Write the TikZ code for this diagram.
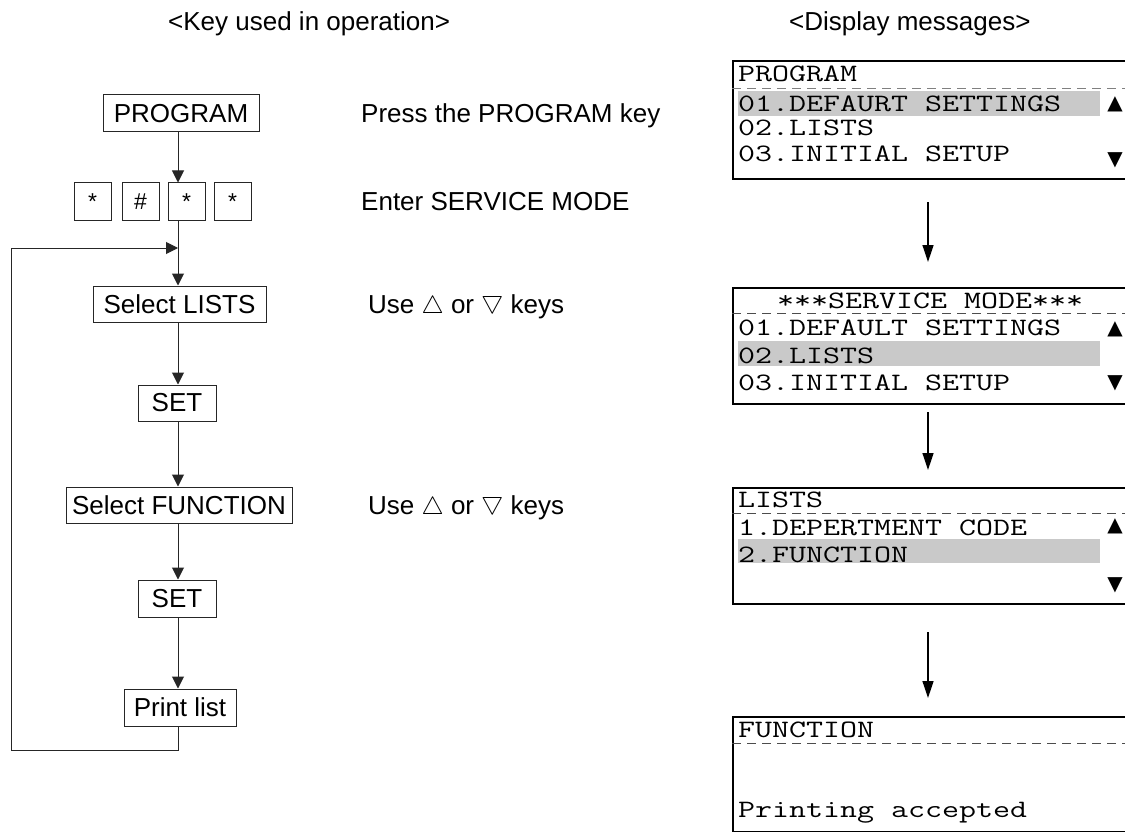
\documentclass[tikz,border=0pt]{standalone}
\usepackage{fontspec}
\setmainfont{Liberation Sans}
\newfontfamily\monof[FakeStretch=1.32]{Latin Modern Mono}
\newfontfamily\symf{DejaVu Sans}
\usetikzlibrary{arrows.meta}
\newcommand{\uptri}{$\bigtriangleup$}
\newcommand{\dntri}{\raisebox{4pt}{\rotatebox[origin=c]{180}{$\bigtriangleup$}}}
\begin{document}
\begin{tikzpicture}[x=1pt,y=-1pt,
  keybox/.style={draw=black!85, line width=1pt, inner sep=0pt, minimum height=37pt, font=\fontsize{26}{30}\selectfont},
  smallkey/.style={keybox, minimum width=37pt, font=\fontsize{23}{26}\selectfont},
  arr/.style={line width=1pt, draw=black!85, -{Triangle[length=12pt,width=12pt]}},
  plain/.style={line width=1pt, draw=black!85},
  darr/.style={line width=1.3pt, -{Triangle[length=17pt,width=11pt]}},
  disp/.style={draw, line width=2pt, inner sep=0pt, minimum width=420pt, anchor=north west},
  mono/.style={font=\monof\fontsize{25}{27}\selectfont, inner sep=0pt, anchor=base west},
  hl/.style={fill=black!21},
  dashl/.style={draw=black!70, line width=1pt, dash pattern=on 9pt off 6pt},
  sym/.style={font=\symf\fontsize{20}{22}\selectfont, inner sep=0pt},
  lbl/.style={font=\fontsize{26}{30}\selectfont, inner sep=0pt, anchor=base west},
  hdr/.style={font=\fontsize{26}{30}\selectfont, inner sep=0pt, anchor=base west}
]
\clip (0,0) rectangle (1125,832);
\fill[white] (0,0) rectangle (1125,832);

% headers
\node[hdr] (h1) at (168,31) {<Key used in operation>};
\node[hdr] (h2) at (789,31) {<Display messages>};

% left column
\coordinate (c) at (178,0);
\node[keybox, minimum width=156pt] (program) at (181,113.5) {PROGRAM};
\node[smallkey] (k1) at (92.5,201.5) {*};
\node[smallkey] (k2) at (140.5,201.5) {\#};
\node[smallkey] (k3) at (186.5,201.5) {*};
\node[smallkey] (k4) at (232.5,201.5) {*};
\node[keybox, minimum width=173pt, minimum height=36pt] (lists) at (179.5,304) {Select LISTS};
\node[keybox, minimum width=78pt, minimum height=36pt] (set1) at (177,403) {SET};
\node[keybox, minimum width=226pt, minimum height=36pt] (func) at (179,505) {Select FUNCTION};
\node[keybox, minimum width=78pt] (set2) at (177,598.5) {SET};
\node[keybox, minimum width=112pt] (print) at (180,707.5) {Print list};

\coordinate (j) at (178,248);
\coordinate (loopL) at (11,750);
\draw[arr] (program.south -| c) -- (k3.north -| c);
\draw[plain] (k3.south -| c) -- (j);
\draw[arr] (j) -- (lists.north -| c);
\draw[arr] (lists.south -| c) -- (set1.north -| c);
\draw[arr] (set1.south -| c) -- (func.north -| c);
\draw[arr] (func.south -| c) -- (set2.north -| c);
\draw[arr] (set2.south -| c) -- (print.north -| c);
\draw[arr] (print.south -| c) |- (loopL) |- (j);

% middle labels
\node[lbl] (t1) at (361,123) {Press the PROGRAM key};
\node[lbl] (t2) at (361,211) {Enter SERVICE MODE};
\node[lbl] (t3) at (368,313) {Use \uptri{} or \dntri{} keys};
\node[lbl] (t4) at (368,514) {Use \uptri{} or \dntri{} keys};

% display boxes
\node[disp, minimum height=118pt] (d1) at (732,60) {};
\node[disp, minimum height=116pt] (d2) at (732,287) {};
\node[disp, minimum height=116pt] (d3) at (732,487) {};
\node[disp, minimum height=115pt] (d4) at (732,716) {};

% box 1
\draw[dashl, draw=black!50] (d1.west |- 0,89) -- (1125,89);
\fill[hl] (738,91) rectangle (1100,116);
\node[mono] (d1a) at (738,82) {PROGRAM};
\node[mono] (d1b) at (738,112) {01.DEFAURT SETTINGS};
\node[mono] (d1c) at (738,136) {02.LISTS};
\node[mono] (d1d) at (738,161) {03.INITIAL SETUP};
\node[sym] (d1u) at (1115,104) {▲};
\node[sym] (d1v) at (1115,160) {▼};

% box 2
\draw[dashl] (d2.west |- 0,313) -- (1125,313);
\fill[hl] (738,341) rectangle (1100,366);
\node[mono] (d2a) at (777,308) {***SERVICE MODE***};
\node[mono] (d2b) at (738,335) {01.DEFAULT SETTINGS};
\node[mono] (d2c) at (738,363) {02.LISTS};
\node[mono] (d2d) at (738,390) {03.INITIAL SETUP};
\node[sym] (d2u) at (1115,329) {▲};
\node[sym] (d2v) at (1115,383) {▼};

% box 3
\draw[dashl] (d3.west |- 0,513) -- (1125,513);
\fill[hl] (738,539) rectangle (1100,563);
\node[mono] (d3a) at (738,507) {LISTS};
\node[mono] (d3b) at (738,535) {1.DEPERTMENT CODE};
\node[mono] (d3c) at (738,562) {2.FUNCTION};
\node[sym] (d3u) at (1115,526) {▲};
\node[sym] (d3v) at (1115,585) {▼};

% box 4
\draw[dashl] (d4.west |- 0,743) -- (1125,743);
\node[mono] (d4a) at (738,737) {FUNCTION};
\node[mono] (d4b) at (738,817) {Printing accepted};

% display arrows
\coordinate (ax) at (928,0);
\draw[darr] ([yshift=-22pt]d1.south -| ax) -- ([yshift=25pt]d2.north -| ax);
\draw[darr] ([yshift=-7pt]d2.south -| ax) -- ([yshift=17pt]d3.north -| ax);
\draw[darr] ([yshift=-27pt]d3.south -| ax) -- ([yshift=18pt]d4.north -| ax);
\end{tikzpicture}
\end{document}
